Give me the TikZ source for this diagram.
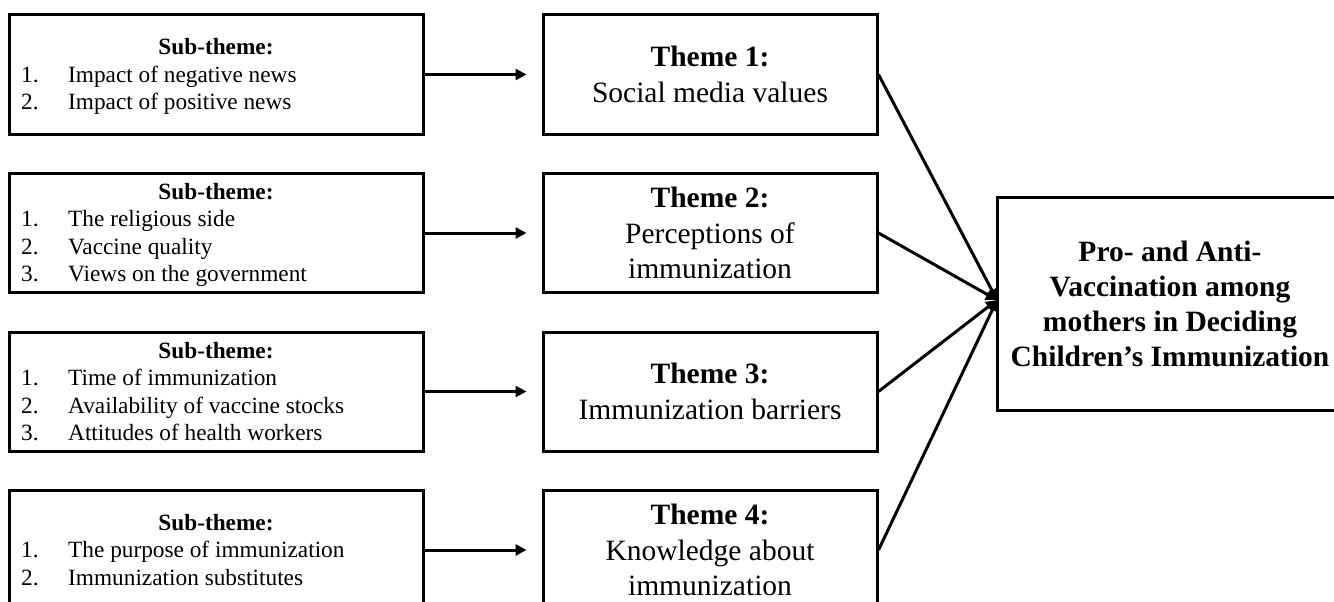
\documentclass[tikz,border=0pt]{standalone}
\usepackage{fontspec}
\setmainfont{Liberation Serif}
\usetikzlibrary{arrows.meta}
\tikzset{
  box/.style={draw=black, line width=3pt, rectangle, inner sep=0pt, fill=white},
  subbox/.style={box, minimum width=414pt, minimum height=119pt},
  themebox/.style={box, minimum width=334pt, minimum height=119pt, align=center,
     font=\fontsize{29.5}{35.5}\selectfont},
  bigbox/.style={box, minimum width=346pt, minimum height=213pt, align=center,
     font=\bfseries\fontsize{29.5}{35}\selectfont},
  arr/.style={line width=3pt, -{Triangle[length=11pt,width=11pt]}},
  subtitle/.style={anchor=base, inner sep=0pt, font=\bfseries\fontsize{23.3}{27}\selectfont},
  item/.style={anchor=base west, inner sep=0pt, font=\fontsize{23.3}{27}\selectfont},
}
\newcommand{\num}[1]{\makebox[47pt][l]{#1}}
\begin{document}
\begin{tikzpicture}[x=1pt,y=-1pt]
\useasboundingbox (0,0) rectangle (1334,602);
\clip (0,0) rectangle (1334,602);
\fill[white] (0,0) rectangle (1334,602);

% sub-theme boxes
\node[subbox] (s1) at (216,74.5) {};
\node[subbox] (s2) at (216,233) {};
\node[subbox] (s3) at (216,391.5) {};
\node[subbox] (s4) at (216,550) {};

% theme boxes
\node[themebox] (t1) at (710,74.5) {\textbf{Theme 1:}\\Social media values};
\node[themebox] (t2) at (710,233) {\textbf{Theme 2:}\\Perceptions of\\immunization};
\node[themebox] (t3) at (710,391.5) {\textbf{Theme 3:}\\Immunization barriers};
\node[themebox] (t4) at (710,550) {\textbf{Theme 4:}\\Knowledge about\\immunization};

% big box
\node[bigbox] (big) at (1170,303.5) {Pro- and Anti-\\Vaccination among\\mothers in Deciding\\Children’s Immunization};
\coordinate (conv) at (997,300);

% sub-theme texts
\node[subtitle] (s1t) at (216,55) {Sub-theme:};
\node[item] (s1a) at (21,82.5) {\num{1.}Impact of negative news};
\node[item] (s1b) at (21,110) {\num{2.}Impact of positive news};

\node[subtitle] (s2t) at (216,199) {Sub-theme:};
\node[item] (s2a) at (21,226.5) {\num{1.}The religious side};
\node[item] (s2b) at (21,254) {\num{2.}Vaccine quality};
\node[item] (s2c) at (21,281.5) {\num{3.}Views on the government};

\node[subtitle] (s3t) at (216,358) {Sub-theme:};
\node[item] (s3a) at (21,385.5) {\num{1.}Time of immunization};
\node[item] (s3b) at (21,413) {\num{2.}Availability of vaccine stocks};
\node[item] (s3c) at (21,440.5) {\num{3.}Attitudes of health workers};

\node[subtitle] (s4t) at (216,530) {Sub-theme:};
\node[item] (s4a) at (21,557.5) {\num{1.}The purpose of immunization};
\node[item] (s4b) at (21,585) {\num{2.}Immunization substitutes};

% connectors
\draw[arr, shorten >=15pt] (s1) -- (t1);
\draw[arr, shorten >=15pt] (s2) -- (t2);
\draw[arr, shorten >=15pt] (s3) -- (t3);
\draw[arr, shorten >=15pt] (s4) -- (t4);

\draw[arr] (t1.east) -- (conv);
\draw[arr] (t2.east) -- (conv);
\draw[arr] (t3.east) -- (conv);
\draw[arr] (t4.east) -- (conv);
\end{tikzpicture}
\end{document}
